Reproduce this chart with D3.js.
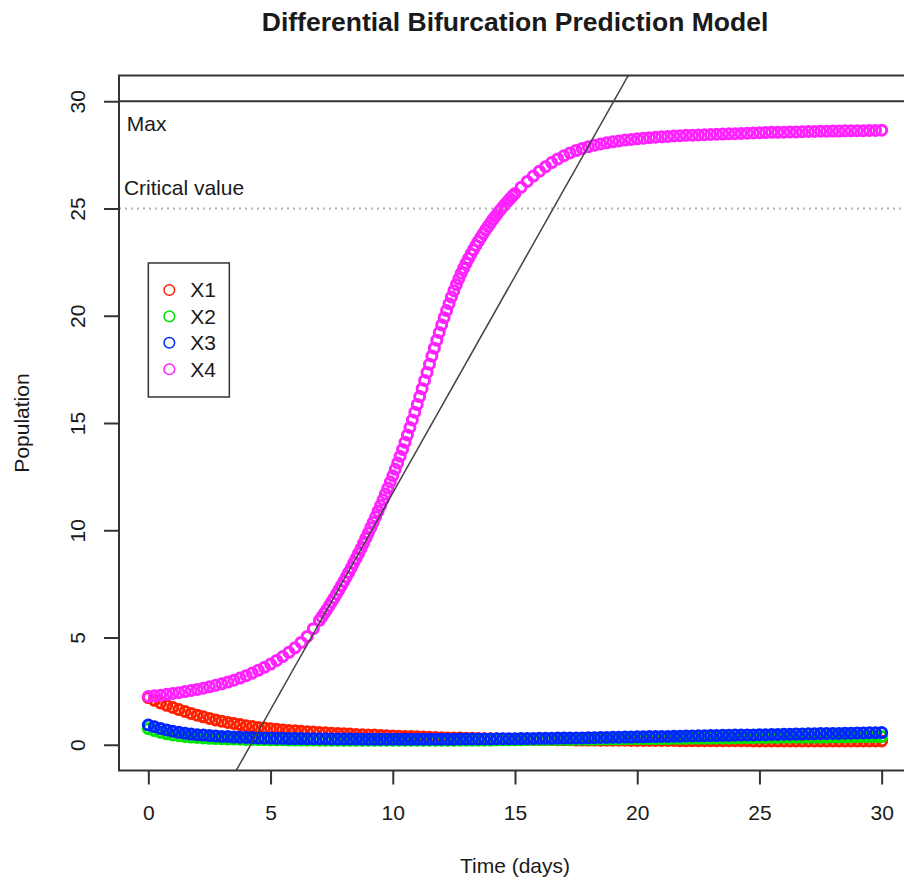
<!DOCTYPE html>
<html>
<head>
<meta charset="utf-8">
<script src="https://d3js.org/d3.v7.min.js"></script>
<style>
  body { margin: 0; background: #fff; }
  text { font-family: "Liberation Sans", Arial, Helvetica, sans-serif; fill: #1a1a1a; }
</style>
</head>
<body>
<div id="chart"></div>
<script>
// time grid for X1..X3 (every 0.25 day)
var tLow = d3.range(0, 121).map(function(i){ return i / 4; });
// X4 is sampled finer where it climbs fast
var tX4 = d3.range(0, 28).map(function(i){ return i / 4; })
  .concat(d3.range(70, 150).map(function(i){ return i / 10; }))
  .concat(d3.range(60, 121).map(function(i){ return i / 4; }));

var x1 = [2.20, 2.07, 1.95, 1.84, 1.74, 1.64, 1.55, 1.46, 1.38, 1.30, 1.23, 1.16, 1.10,
  1.04, 0.99, 0.94, 0.89, 0.85, 0.81, 0.78, 0.75, 0.72, 0.69, 0.67, 0.65,
  0.63, 0.61, 0.59, 0.57, 0.56, 0.54, 0.53, 0.51, 0.50, 0.48, 0.47, 0.46,
  0.45, 0.43, 0.42, 0.41, 0.40, 0.39, 0.38, 0.37, 0.36, 0.35, 0.34, 0.33,
  0.32, 0.32, 0.31, 0.30, 0.30, 0.29, 0.28, 0.28, 0.27, 0.27, 0.26, 0.26,
  0.25, 0.25, 0.25, 0.24, 0.24, 0.24, 0.23, 0.23, 0.23, 0.22, 0.22, 0.22,
  0.22, 0.21, 0.21, 0.21, 0.21, 0.21, 0.20, 0.20, 0.20, 0.20, 0.20, 0.20,
  0.20, 0.20, 0.19, 0.19, 0.19, 0.19, 0.19, 0.19, 0.19, 0.19, 0.19, 0.19,
  0.19, 0.19, 0.18, 0.18, 0.18, 0.18, 0.18, 0.18, 0.18, 0.18, 0.18, 0.18,
  0.18, 0.18, 0.18, 0.18, 0.18, 0.18, 0.18, 0.18, 0.18, 0.18, 0.18, 0.18];

var x2 = [0.75, 0.66, 0.58, 0.51, 0.46, 0.42, 0.39, 0.36, 0.34, 0.32, 0.30, 0.29, 0.28,
  0.27, 0.27, 0.26, 0.25, 0.25, 0.24, 0.24, 0.23, 0.23, 0.23, 0.22, 0.22,
  0.22, 0.22, 0.22, 0.21, 0.21, 0.21, 0.21, 0.21, 0.21, 0.21, 0.21, 0.21,
  0.21, 0.21, 0.21, 0.21, 0.21, 0.21, 0.21, 0.21, 0.21, 0.21, 0.21, 0.21,
  0.21, 0.21, 0.22, 0.22, 0.22, 0.22, 0.22, 0.22, 0.23, 0.23, 0.23, 0.23,
  0.23, 0.24, 0.24, 0.24, 0.24, 0.25, 0.25, 0.25, 0.25, 0.26, 0.26, 0.26,
  0.26, 0.27, 0.27, 0.27, 0.27, 0.28, 0.28, 0.28, 0.28, 0.29, 0.29, 0.29,
  0.29, 0.30, 0.30, 0.30, 0.31, 0.31, 0.31, 0.31, 0.32, 0.32, 0.32, 0.32,
  0.33, 0.33, 0.33, 0.34, 0.34, 0.34, 0.34, 0.35, 0.35, 0.35, 0.35, 0.36,
  0.36, 0.36, 0.36, 0.37, 0.37, 0.37, 0.37, 0.38, 0.38, 0.38, 0.38, 0.38];

var x3 = [0.92, 0.84, 0.76, 0.69, 0.63, 0.58, 0.54, 0.50, 0.47, 0.45, 0.43, 0.41, 0.39,
  0.38, 0.36, 0.35, 0.34, 0.33, 0.32, 0.31, 0.31, 0.30, 0.30, 0.29, 0.29,
  0.29, 0.28, 0.28, 0.28, 0.28, 0.27, 0.27, 0.27, 0.27, 0.27, 0.26, 0.26,
  0.26, 0.26, 0.26, 0.26, 0.26, 0.26, 0.26, 0.26, 0.26, 0.26, 0.26, 0.26,
  0.26, 0.26, 0.27, 0.27, 0.27, 0.27, 0.27, 0.27, 0.28, 0.28, 0.28, 0.28,
  0.29, 0.29, 0.29, 0.30, 0.30, 0.30, 0.31, 0.31, 0.32, 0.32, 0.32, 0.33,
  0.33, 0.34, 0.34, 0.35, 0.35, 0.36, 0.36, 0.37, 0.37, 0.38, 0.38, 0.39,
  0.39, 0.40, 0.40, 0.41, 0.41, 0.42, 0.42, 0.43, 0.43, 0.44, 0.44, 0.45,
  0.45, 0.46, 0.46, 0.47, 0.47, 0.48, 0.48, 0.49, 0.49, 0.50, 0.50, 0.51,
  0.51, 0.52, 0.52, 0.53, 0.53, 0.54, 0.54, 0.55, 0.55, 0.56, 0.56, 0.57];

var x4 = [2.25, 2.28, 2.31, 2.35, 2.39, 2.43, 2.48, 2.53, 2.58, 2.64, 2.70, 2.77, 2.84, 2.92,
  3.01, 3.11, 3.22, 3.34, 3.47, 3.61, 3.76, 3.93, 4.11, 4.31, 4.52, 4.77, 5.05, 5.41,
  5.80, 5.96, 6.13, 6.30, 6.48, 6.66, 6.84, 7.03, 7.22, 7.42,
  7.62, 7.83, 8.04, 8.25, 8.47, 8.69, 8.92, 9.15, 9.39, 9.63,
  9.87, 10.12, 10.37, 10.63, 10.89, 11.15, 11.42, 11.69, 11.97, 12.25,
  12.54, 12.84, 13.14, 13.45, 13.77, 14.10, 14.44, 14.79, 15.14, 15.50,
  15.86, 16.23, 16.60, 16.98, 17.36, 17.74, 18.12, 18.49, 18.86, 19.22,
  19.57, 19.91, 20.24, 20.56, 20.87, 21.17, 21.45, 21.72, 21.98, 22.22,
  22.45, 22.67, 22.88, 23.08, 23.28, 23.47, 23.65, 23.83, 24.00, 24.17,
  24.33, 24.49, 24.64, 24.79, 24.93, 25.07, 25.20, 25.33, 25.46, 25.58,
  25.70, 25.99, 26.26, 26.51, 26.74, 26.95, 27.14, 27.31, 27.46, 27.59, 27.70,
  27.80, 27.88, 27.95, 28.01, 28.06, 28.11, 28.15, 28.19, 28.22, 28.25,
  28.28, 28.30, 28.32, 28.34, 28.36, 28.38, 28.39, 28.41, 28.42, 28.43,
  28.44, 28.45, 28.46, 28.47, 28.48, 28.49, 28.50, 28.51, 28.52,
  28.53, 28.54, 28.55, 28.55, 28.56, 28.57, 28.57, 28.58, 28.59, 28.59, 28.60,
  28.60, 28.61, 28.61, 28.62, 28.62, 28.63, 28.63, 28.64, 28.64, 28.65];

var seriesNames = ["X1", "X2", "X3", "X4"];
var seriesColors = ["#ff2000", "#00e600", "#0026ff", "#ff22ff"];
var xTicks = [0, 5, 10, 15, 20, 25, 30];
var yTicks = [0, 5, 10, 15, 20, 25, 30];
var maxValue = 30, criticalValue = 25;
var trend = {a: -8.46, b: 2.02};   // abline(a, b)

var series = [
  {name: "X1", t: tLow, v: x1},
  {name: "X2", t: tLow, v: x2},
  {name: "X3", t: tLow, v: x3},
  {name: "X4", t: tX4, v: x4}
];

var W = 904, H = 881;
var plot = {left: 119, right: 911, top: 75.5, bottom: 770.5};

var svg = d3.select("#chart").append("svg")
  .attr("width", W).attr("height", H);

var x = d3.scaleLinear().domain([-1.2, 31.2]).range([plot.left, plot.right]);
var y = d3.scaleLinear().domain([-1.2, 31.2]).range([plot.bottom, plot.top]);
var color = d3.scaleOrdinal().domain(seriesNames).range(seriesColors);

svg.append("clipPath").attr("id", "clip")
  .append("rect")
  .attr("x", plot.left).attr("y", plot.top)
  .attr("width", plot.right - plot.left).attr("height", plot.bottom - plot.top);

var inner = svg.append("g").attr("clip-path", "url(#clip)");

// points, drawn in series order like points() calls
series.forEach(function(s) {
  inner.append("g")
    .selectAll("circle")
    .data(s.v.map(function(v, i){ return {t: s.t[i], v: v}; }))
    .enter()
    .append("circle")
      .attr("cx", function(d){ return x(d.t); })
      .attr("cy", function(d){ return y(d.v); })
      .attr("r", 5)
      .style("fill", "none")
      .style("stroke", color(s.name))
      .style("stroke-width", 3);
});

// reference lines
inner.append("line")
  .attr("x1", plot.left).attr("x2", plot.right)
  .attr("y1", y(maxValue)).attr("y2", y(maxValue))
  .style("stroke", "#333").style("stroke-width", 2);

inner.append("line")
  .attr("x1", plot.left).attr("x2", plot.right)
  .attr("y1", y(criticalValue)).attr("y2", y(criticalValue))
  .style("stroke", "#b5b5b5").style("stroke-width", 2)
  .style("stroke-dasharray", "2,4");

var xd = x.domain();
inner.append("line")
  .attr("x1", x(xd[0])).attr("y1", y(trend.a + trend.b * xd[0]))
  .attr("x2", x(xd[1])).attr("y2", y(trend.a + trend.b * xd[1]))
  .style("stroke", "#444").style("stroke-width", 1.5);

// box
svg.append("rect")
  .attr("x", plot.left).attr("y", plot.top)
  .attr("width", plot.right - plot.left).attr("height", plot.bottom - plot.top)
  .style("fill", "none").style("stroke", "#333").style("stroke-width", 2);

// axes
var xAxis = svg.append("g")
  .attr("transform", "translate(0," + plot.bottom + ")")
  .call(d3.axisBottom(x).tickValues(xTicks).tickSize(14).tickPadding(21));
xAxis.select(".domain").remove();
xAxis.selectAll("line").style("stroke", "#333").style("stroke-width", 2);
xAxis.selectAll("text").style("font-size", "21px").style("font-family", null);

var yAxis = svg.append("g")
  .attr("transform", "translate(" + plot.left + ",0)")
  .call(d3.axisLeft(y).tickValues(yTicks).tickSize(15));
yAxis.select(".domain").remove();
yAxis.selectAll("line").style("stroke", "#333").style("stroke-width", 2);
yAxis.selectAll("text")
  .attr("x", 0).attr("dy", null)
  .attr("text-anchor", "middle")
  .attr("transform", "translate(-34,0) rotate(-90)")
  .style("font-size", "21px").style("font-family", null);

// annotations
svg.append("text")
  .attr("x", x(-0.88)).attr("y", y(maxValue) + 30)
  .style("font-size", "21px")
  .text("Max");

svg.append("text")
  .attr("x", x(-1.0)).attr("y", y(criticalValue) - 13)
  .style("font-size", "21px")
  .text("Critical value");

// titles
svg.append("text")
  .attr("x", (plot.left + plot.right) / 2).attr("y", 31)
  .attr("text-anchor", "middle")
  .style("font-size", "26.5px").style("font-weight", "bold")
  .text("Differential Bifurcation Prediction Model");

svg.append("text")
  .attr("x", (plot.left + plot.right) / 2).attr("y", 873)
  .attr("text-anchor", "middle")
  .style("font-size", "21px")
  .text("Time (days)");

svg.append("text")
  .attr("transform", "translate(29," + ((plot.top + plot.bottom) / 2) + ") rotate(-90)")
  .attr("text-anchor", "middle")
  .style("font-size", "21px")
  .text("Population");

// legend
var lg = {left: x(0), top: y(22.46), width: 81, height: 134, row: 26.4};
var legend = svg.append("g");
legend.append("rect")
  .attr("x", lg.left).attr("y", lg.top)
  .attr("width", lg.width).attr("height", lg.height)
  .style("fill", "#fff").style("stroke", "#333").style("stroke-width", 1.5);

var items = legend.selectAll("g.item")
  .data(seriesNames)
  .enter()
  .append("g")
    .attr("class", "item")
    .attr("transform", function(d, i){ return "translate(" + lg.left + "," + (lg.top + 27 + i * lg.row) + ")"; });

items.append("circle")
  .attr("cx", 21).attr("cy", 0).attr("r", 5.3)
  .style("fill", "none")
  .style("stroke", function(d){ return color(d); })
  .style("stroke-width", 1.5);

items.append("text")
  .attr("x", 42).attr("y", 7.5)
  .style("font-size", "21px")
  .text(function(d){ return d; });
</script>
</body>
</html>
